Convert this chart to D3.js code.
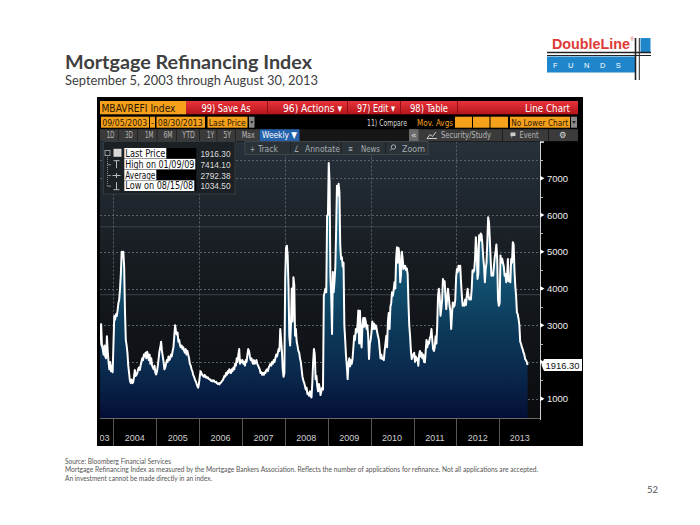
<!DOCTYPE html>
<html><head><meta charset="utf-8">
<script src="https://cdn.jsdelivr.net/npm/d3@7"></script>
<style>html,body{margin:0;padding:0;background:#fff;} svg{display:block;}</style>
</head><body>
<svg id="c" width="700" height="525"></svg>
<script>
// ---------------- DATA ----------------
const title = "Mortgage Refinancing Index";
const subtitle = "September 5, 2003 through August 30, 2013";
const ticker = "MBAVREFI Index";
const startDate = "2003-09-05";
const endDate = "2013-08-30";
// weekly (Friday) values per calendar year
const v2003 = [2440,2900,3030,2450,2350,2200,2450,2150,2100,2700,2300,2000,1800,2000,1750,1900,1720];
const v2004 = [2500,3250,3150,3300,3250, 3400,3600,3700,4000, 4400,5000,4850,5000, 4600,3400,2600,2450,2250, 1900,1700,1500,1430, 1520,1420,1450,1600, 1780,1620,1650,1700,1800, 1850,1780,1900,2000, 2100,2050,2200,2150, 2250,2100,2280,2200,2050, 2200,1950,2100,1900, 1850,1800,1900,1700,1660];
const v2005 = [1750,1900,2100,2300, 2400,2550,2300,2150, 2000,1800,1850,1950, 2050,2000,2150,2050,2100, 2200,2150,2300,2400, 2700,3000,2850,2750, 2800,2550,2600,2450,2400, 2450,2350,2400,2300, 2250,2350,2200,2300,2200, 2100,1950,1900,1800, 1750,1650,1600,1530, 1480,1420,1350,1300,1400];
const v2006 = [1600,1750,1700,1650, 1620,1600,1650,1580, 1600,1560,1580,1540,1520, 1520,1480,1500,1470, 1500,1470,1450,1460, 1420,1400,1420,1390,1430, 1440,1480,1500,1550, 1620,1600,1700,1650, 1750,1700,1800,1750,1700, 1800,1750,1850,1800, 1950,1900,2100,2000, 2200,2350,1950,2050,2000];
const v2007 = [2050,1950,2000,1900, 2050,2000,2200,2350, 2300,2150,2050,2100,2000, 1950,2050,1950,2000, 2050,1950,1900,1850, 1800,1700,1720,1650,1700, 1650,1720,1700,1780, 1800,1750,1850,1900,1950, 1900,2000,1950,2050, 2000,2100,2200,2150, 2250,2350,2300,2900,2600, 2300,1800,1600,1700];
const v2008 = [4300,5100,5166,4900, 4077,2700,2450,3000,4000, 3100,4305,4100,2714, 2900,2550,2440,2300, 2260,2100,2000,1800,1600, 1500,1440,1350,1250, 1300,1130,1150,1080, 1200,1075,1034.5,1440,2000, 2350,2200,1530,1620, 1350,1200,1400,1300,1100, 1200,1300,1250,3800, 3900,4000,3900,5985];
const v2009 = [6000,7414.1,6900,4350,3800, 2760,4450,3900,4200, 4600,5600,6800,6530, 6850,6620,5166,4800, 4850,4600,4700,2986,2600, 2170,1900,1534,1950, 2100,1880,2050,1950,2100, 2400,2714,2600,2900, 2800,3000,3400,2500, 3396,2600,2397,3000,3200, 2960,3200,3100,2900, 3000,2700,2079,2500];
const v2010 = [2600,2800,3100,2900,3050, 2900,3000,2950,2800, 2700,2600,2350,2100, 2200,2080,2100,2050,2300, 2500,2714,2400,3100, 3330,2900,3500,3600, 3896,3800,3950,4170,4000, 4800,5122,4700,5100, 4900,4170,4400,5000, 4800,4530,4600,4620,4500, 4550,4400,3600,2986, 2700,2300,2080,2200,2150];
const v2011 = [2250,2000,2150,2050, 2100,1900,2200,2300, 2150,2250,2100,2200, 2000,1990,2300,2600,2400, 2550,2500,2650,2700, 2900,2600,2350,2300, 2400,2700,2500,3000,3800, 3990,3800,3260,3450, 3700,4260,4100,4200,3800, 3440,3700,3990,3800, 3530,3400,2900,3300, 3620,3500,3530,3700,4300];
const v2012 = [4530,4450,4620,4500, 4620,4170,3800,3530, 3600,3530,3700,3550,3800, 3990,3800,3700,3750, 3700,4000,4500,4450, 4500,4800,5395,5100,4260, 4400,5450,5300,5500, 5450,5200,4850,4600,4170, 4530,4700,5300,5940, 5800,5350,4800,4350, 4400,4350,4600,4850,5000, 5200,4800,3700,3530];
const v2013 = [3600,4900,4700,4810, 4700,4600,4350,4400, 4170,4300,4800,4200,4300, 4170,4800,4700,5260, 5200,4500,4080,3800,3350, 3300,3170,3000,2550, 2500,2400,2350,2260, 2200,2080,2050,2000,1916.3];
const yearValues = {2003:v2003,2004:v2004,2005:v2005,2006:v2006,2007:v2007,2008:v2008,2009:v2009,2010:v2010,2011:v2011,2012:v2012,2013:v2013};
const yearLabels = ["2003","2004","2005","2006","2007","2008","2009","2010","2011","2012","2013"];
const yTickValues = [1000,2000,3000,4000,5000,6000,7000];
const yLabelValues = [1000,3000,4000,5000,6000,7000]; // 2000 is hidden behind the last-price tag
const yMinorValues = [1000,1500,2000,2500,3000,3500,4000,4500,5000,5500,6000,6500,7000,7500];
const yGridDotted = [1000,2000,3000,4000,5000,6000,7000,7500];
const yGridSolid = [3830,5680];
const xGridYears = ["2004","2006","2008","2010","2012"];
const lastPrice = "1916.30";
const lastValue = 1916.3;
const legendRows = [["Last Price","1916.30"],["High on 01/09/09","7414.10"],["Average","2792.38"],["Low on 08/15/08","1034.50"]];
const footer = ["Source: Bloomberg Financial Services",
 "Mortgage Refinancing Index as measured by the  Mortgage Bankers Association. Reflects the number of applications for refinance. Not all applications are accepted.",
 "An investment cannot be made directly in an index."];
const pageNumber = "52";

// ---------------- BUILD SERIES ----------------
const parse = d3.timeParse("%Y-%m-%d");
const d0 = parse(startDate), d1 = parse(endDate);
const series = [];
Object.keys(yearValues).forEach(y => {
  const vals = yearValues[y];
  const a = d3.max([new Date(+y,0,1), d0]);
  const b = d3.min([new Date(+y+1,0,1), d3.timeDay.offset(d1,1)]);
  const fr = d3.timeFriday.range(a, b);
  vals.forEach((v,i) => { if (fr[i]) series.push({date: fr[i], value: v}); });
});

// ---------------- LAYOUT ----------------
const svg = d3.select("#c");
const defs = svg.append("defs");
const BB = "'DejaVu Sans Condensed','Liberation Sans',sans-serif";
const AX = "'Liberation Sans','DejaVu Sans',sans-serif";
const SL = "Lato,'Open Sans',sans-serif";

function T(g, xx, yy, str, len, size, fill, fam){
  const t = g.append("text").attr("x",xx).attr("y",yy).attr("font-family",fam||BB).attr("font-size",size).attr("fill",fill).text(str);
  if (len) t.attr("textLength",len).attr("lengthAdjust","spacingAndGlyphs");
  return t;
}

const plot = {l:100, r:540, t:141.5, b:418};
const x = d3.scaleTime().domain([d0, d1]).range([99.5, 527.6]);
const y = d3.scaleLinear().domain([1000, 7000]).range([398.7, 178.3]);

// Title block
T(svg,65,69,title,247,19.5,"#404040",SL).attr("font-weight","bold");
T(svg,65,85,subtitle,253,13.5,"#404040",SL);

// Logo
const logo = svg.append("g");
T(logo,552,48.5,"DoubleLine",78,14,"#e03a36","'Liberation Sans',Arial,sans-serif").attr("font-weight","bold");
T(logo,630.5,41,"®",null,4.5,"#e03a36",AX);
logo.append("rect").attr("x",547).attr("y",56.5).attr("width",88).attr("height",16).attr("fill","#1f86cc");
logo.append("rect").attr("x",640.5).attr("y",38).attr("width",10).attr("height",14).attr("fill","#1f86cc");
logo.append("line").attr("x1",547).attr("x2",651).attr("y1",52.5).attr("y2",52.5).attr("stroke","#222").attr("stroke-width",1.6);
logo.append("line").attr("x1",547).attr("x2",651).attr("y1",55.5).attr("y2",55.5).attr("stroke","#222").attr("stroke-width",1);
logo.append("line").attr("x1",635.5).attr("x2",635.5).attr("y1",38).attr("y2",80).attr("stroke","#222").attr("stroke-width",1.6);
logo.append("line").attr("x1",639.3).attr("x2",639.3).attr("y1",38).attr("y2",80).attr("stroke","#222").attr("stroke-width",1);
T(logo,553,67.5,"FUNDS",null,7.5,"#fff",AX).attr("letter-spacing",10.5);

// Panel
svg.append("rect").attr("x",97).attr("y",97).attr("width",486).attr("height",349).attr("fill","#000");

// Gradients
const bg = defs.append("linearGradient").attr("id","bgGrad").attr("x1",0).attr("y1",0).attr("x2",0).attr("y2",1);
bg.append("stop").attr("offset","0%").attr("stop-color","#27313a");
bg.append("stop").attr("offset","45%").attr("stop-color","#161b20");
bg.append("stop").attr("offset","100%").attr("stop-color","#0a0c0f");
const ag = defs.append("linearGradient").attr("id","areaGrad").attr("gradientUnits","userSpaceOnUse")
  .attr("x1",0).attr("x2",0).attr("y1",y(7414)).attr("y2",plot.b);
[["0%","#2e8fae"],["34%","#1a5f7e"],["54%","#0f4767"],["65%","#0c3a5a"],["81%","#0a2a4e"],["93%","#071a40"],["100%","#040d35"]]
  .forEach(s => ag.append("stop").attr("offset",s[0]).attr("stop-color",s[1]));
const red = defs.append("linearGradient").attr("id","redGrad").attr("x1",0).attr("y1",0).attr("x2",0).attr("y2",1);
red.append("stop").attr("offset","0%").attr("stop-color","#e8343a");
red.append("stop").attr("offset","100%").attr("stop-color","#b5141c");
defs.append("clipPath").attr("id","plotClip").append("rect").attr("x",plot.l).attr("y",plot.t).attr("width",plot.r-plot.l).attr("height",plot.b-plot.t);
defs.append("clipPath").attr("id","xClip").append("rect").attr("x",plot.l).attr("y",plot.b).attr("width",483).attr("height",28);

// Plot background
svg.append("rect").attr("x",plot.l).attr("y",plot.t).attr("width",plot.r-plot.l).attr("height",plot.b-plot.t).attr("fill","url(#bgGrad)");

// grids
const grid = svg.append("g").attr("clip-path","url(#plotClip)");
grid.selectAll(".gs").data(yGridSolid).join("line").attr("x1",plot.l).attr("x2",plot.r)
  .attr("y1",d=>y(d)).attr("y2",d=>y(d)).attr("stroke","#3b454d").attr("stroke-width",1);
grid.selectAll(".gd").data(yGridDotted).join("line").attr("x1",plot.l).attr("x2",plot.r)
  .attr("y1",d=>Math.round(y(d))+0.5).attr("y2",d=>Math.round(y(d))+0.5).attr("stroke","#5a6268").attr("stroke-width",1).attr("stroke-dasharray","2,2");
grid.selectAll(".gx").data(xGridYears).join("line").attr("y1",plot.t).attr("y2",plot.b)
  .attr("x1",d=>Math.round(x(new Date(+d,0,1)))+0.5).attr("x2",d=>Math.round(x(new Date(+d,0,1)))+0.5)
  .attr("stroke","#5a6268").attr("stroke-width",1).attr("stroke-dasharray","2,2");

// area + line
const gData = svg.append("g").attr("clip-path","url(#plotClip)");
gData.append("path").datum(series).attr("fill","url(#areaGrad)")
  .attr("d", d3.area().x(d=>x(d.date)).y0(plot.b).y1(d=>y(d.value)));
gData.append("path").datum(series).attr("fill","none").attr("stroke","#fff").attr("stroke-width",2).attr("stroke-linejoin","round")
  .attr("d", d3.line().x(d=>x(d.date)).y(d=>y(d.value)));

// bottom line of plot
svg.append("line").attr("x1",plot.l).attr("x2",plot.r).attr("y1",plot.b+0.5).attr("y2",plot.b+0.5).attr("stroke","#6a6a6a");

// Right axis
const ra = svg.append("g");
ra.append("line").attr("x1",plot.r+0.5).attr("x2",plot.r+0.5).attr("y1",plot.t).attr("y2",plot.b+2).attr("stroke","#cfcfcf");
ra.selectAll(".mt").data(yMinorValues).join("line").attr("x1",plot.r).attr("x2",plot.r+3)
  .attr("y1",d=>Math.round(y(d))+0.5).attr("y2",d=>Math.round(y(d))+0.5).attr("stroke","#bbb");
ra.selectAll(".tri").data(yTickValues).join("path")
  .attr("d",d=>{const yy=y(d);return `M${plot.r},${yy-2.5}L${plot.r+4.5},${yy}L${plot.r},${yy+2.5}Z`;}).attr("fill","#fff");
ra.selectAll(".tl").data(yLabelValues).join("text").attr("x",plot.r+7).attr("y",d=>y(d)+3.5)
  .attr("font-family",AX).attr("font-size",9.5).attr("fill","#eee").text(d=>d);
ra.append("line").attr("x1",plot.r).attr("x2",plot.r+4).attr("y1",plot.t+0.5).attr("y2",plot.t+0.5).attr("stroke","#fff").attr("stroke-width",1.5);

// last price tag
const ly = y(lastValue);
ra.append("path").attr("d",`M${plot.r+1.5},${ly}L${plot.r+4},${ly-6}L582,${ly-6}L582,${ly+6}L${plot.r+4},${ly+6}Z`).attr("fill","#fff");
T(ra,545.5,ly+3.5,lastPrice,34,9.5,"#111",AX);

// X axis
const xa = svg.append("g").attr("clip-path","url(#xClip)");
const yearStarts = yearLabels.slice(1).map(s=>new Date(+s,0,1));
xa.selectAll(".sep").data(yearStarts).join("line").attr("x1",d=>Math.round(x(d))+0.5).attr("x2",d=>Math.round(x(d))+0.5)
  .attr("y1",plot.b+1).attr("y2",446).attr("stroke","#555");
function labelX(s){
  const yr=+s;
  if (yr===2003) return x(d0);
  const a = x(new Date(yr,0,1));
  const b = Math.min(x(new Date(yr+1,0,1)), plot.r);
  return (a+b)/2;
}
xa.selectAll(".xl").data(yearLabels).join("text").attr("x",d=>labelX(d)).attr("y",440.5).attr("text-anchor","middle")
  .attr("font-family",AX).attr("font-size",9).attr("fill","#cfcfcf").text(d=>d);

// ---------------- TOOLBARS ----------------
const tb = svg.append("g");
// row 1
tb.append("rect").attr("x",186).attr("y",101).attr("width",392).attr("height",13.3).attr("fill","url(#redGrad)");
[267,347,400,457].forEach(sx=>tb.append("line").attr("x1",sx+0.5).attr("x2",sx+0.5).attr("y1",101).attr("y2",114.3).attr("stroke","#8e1016"));
tb.append("rect").attr("x",100).attr("y",101).attr("width",86).attr("height",13.3).attr("fill","#f6a11c");
T(tb,101.5,111.8,ticker,74,11,"#2a1800");
[["99) Save As",201.5,49],["96) Actions \u25BE",283,59],["97) Edit \u25BE",357,38],["98) Table",410,38],["Line Chart",525,45]].forEach(t=>
  T(tb,t[1],111.8,t[0],t[2],11,"#fff"));
// row 2
[[101,48,"09/05/2003",45],[150,5,"",0],[156.5,48.5,"08/30/2013",45],[207.5,40,"Last Price",37],[455,17,"",0],[473,16.5,"",0],[490.5,17.5,"",0],[510,60,"No Lower Chart",57]].forEach(b=>{
  tb.append("rect").attr("x",b[0]).attr("y",116.7).attr("width",b[1]).attr("height",11).attr("fill","#f6a11c");
  if(b[2]) T(tb,b[0]+1.2,125.6,b[2],b[3],9.5,"#2a1800");
});
T(tb,151,125.6,"-",3,9.5,"#2a1800");
[[249,5.5],[571,6]].forEach(b=>{
  tb.append("rect").attr("x",b[0]).attr("y",116.7).attr("width",b[1]).attr("height",11).attr("fill","#8a8a8a");
  tb.append("path").attr("d",`M${b[0]+1.2},${121}L${b[0]+b[1]-1.2},${121}L${b[0]+b[1]/2},${124}Z`).attr("fill","#222");
});
T(tb,367,125.6,"11) Compare",40,8,"#d8d8d8");
T(tb,417,125.6,"Mov. Avgs",36,8,"#f6a11c");
// row 3
tb.append("rect").attr("x",100).attr("y",129.2).attr("width",159.5).attr("height",12).attr("fill","#3a3a3a");
tb.append("rect").attr("x",299).attr("y",129.2).attr("width",110).attr("height",12).attr("fill","#161616");
tb.append("rect").attr("x",409).attr("y",129.2).attr("width",169).attr("height",12).attr("fill","#3b3b3b");
[["1D",106.5,8],["3D",125,8],["1M",145,8.5],["6M",163.5,9],["YTD",182.3,12.5],["1Y",206.7,7.5],["5Y",223.3,8],["Max",241.7,13]].forEach(t=>
  T(tb,t[1],138.3,t[0],t[2],9,"#b8b8b8"));
[118,137,156.5,176,199,216.5,235].forEach(sx=>tb.append("line").attr("x1",sx+0.5).attr("x2",sx+0.5).attr("y1",129.2).attr("y2",141.2).attr("stroke","#222"));
tb.append("rect").attr("x",259.5).attr("y",129.2).attr("width",40).attr("height",12).attr("fill","#2462ab");
T(tb,262,138.3,"Weekly \u25BC",35,9,"#fff");
tb.append("rect").attr("x",409).attr("y",129.2).attr("width",9.5).attr("height",12).attr("fill","#6a6a6a");
T(tb,410.8,138.3,"\u00AB",6,9,"#ddd");
tb.append("path").attr("d","M427,138.5L430,134.5L432.5,136.5L436,132 M427,138.5L437,138.5").attr("stroke","#ccc").attr("fill","none");
T(tb,441,138.3,"Security/Study",50,9,"#b8b8b8");
tb.append("path").attr("d","M510.5,132.5L515.5,132.5L515.5,136L512.5,136L511.5,138.5L511.5,136L510.5,136Z").attr("fill","#ccc");
T(tb,519.5,138.3,"Event",19,9,"#b8b8b8");
T(tb,559,138.3,"\u2699",null,8.5,"#ddd","'DejaVu Sans',sans-serif");
[502,548].forEach(sx=>tb.append("line").attr("x1",sx+0.5).attr("x2",sx+0.5).attr("y1",129.2).attr("y2",141.2).attr("stroke","#1c1c1c"));

// track/annotate toolbar
tb.append("rect").attr("x",245).attr("y",141.5).attr("width",183).attr("height",13).attr("fill","#2b3237").attr("stroke","#3e464c");
T(tb,250,151.5,"+",5,9,"#a3adb3");
T(tb,258,151.5,"Track",20,9,"#a3adb3");
T(tb,294,151.5,"\u2220",5,9,"#a3adb3");
T(tb,305,151.5,"Annotate",35,9,"#a3adb3");
T(tb,348,151.5,"\u2261",5,9,"#a3adb3");
T(tb,361,151.5,"News",19,9,"#a3adb3");
T(tb,402,151.5,"Zoom",23,9,"#a3adb3");
tb.append("circle").attr("cx",393.5).attr("cy",147).attr("r",2.2).attr("fill","none").attr("stroke","#a3adb3");
tb.append("line").attr("x1",392).attr("y1",148.5).attr("x2",390).attr("y2",150.5).attr("stroke","#a3adb3");
[290,341,385].forEach(sx=>tb.append("line").attr("x1",sx+0.5).attr("x2",sx+0.5).attr("y1",142).attr("y2",154).attr("stroke","#1d2226"));

// legend box
const lg = svg.append("g");
lg.append("rect").attr("x",103.5).attr("y",141.5).attr("width",131.5).attr("height",52.5).attr("fill","#1c2125").attr("stroke","#343b40");
const rowY = [153.3,164.2,175,185.7];
const labLen = [40,69,30,68];
lg.append("line").attr("x1",107.5).attr("x2",107.5).attr("y1",155).attr("y2",186).attr("stroke","#888").attr("stroke-dasharray","1,1");
legendRows.forEach((r,i)=>{
  const yy = rowY[i];
  lg.append("rect").attr("x",124.3).attr("y",yy-5.3).attr("width",72).attr("height",10.6).attr("fill","#000");
  lg.append("rect").attr("x",124.3).attr("y",yy-5.3).attr("width",labLen[i]+2).attr("height",10.6).attr("fill","#fff");
  T(lg,125.3,yy+3.6,r[0],labLen[i],10,"#111");
  T(lg,200.5,yy+3.6,r[1],30,9.5,"#ddd",AX);
  if(i>0) lg.append("line").attr("x1",107.5).attr("x2",111).attr("y1",yy+0.5).attr("y2",yy+0.5).attr("stroke","#888");
});
lg.append("rect").attr("x",105).attr("y",150.5).attr("width",5).attr("height",5).attr("fill","none").attr("stroke","#999");
lg.append("rect").attr("x",113.5).attr("y",148.8).attr("width",8).attr("height",8).attr("fill","#d8d8d8");
lg.append("path").attr("d",`M113.5,${rowY[1]-3.5}L119.5,${rowY[1]-3.5}M116.5,${rowY[1]-3.5}L116.5,${rowY[1]+4}`).attr("stroke","#bbb");
lg.append("path").attr("d",`M112.5,${rowY[2]+0.5}L120.5,${rowY[2]+0.5}M116.5,${rowY[2]-2}L116.5,${rowY[2]+3}`).attr("stroke","#bbb");
lg.append("path").attr("d",`M113.5,${rowY[3]+4}L119.5,${rowY[3]+4}M116.5,${rowY[3]-3.5}L116.5,${rowY[3]+4}`).attr("stroke","#bbb");

// Footer
const fy = [463.5,472,480.5];
const fl = [106,473,147];
footer.forEach((f,i)=> T(svg,65,fy[i],f,fl[i],6.8,"#555",SL));
T(svg,647,492.5,pageNumber,null,9.5,"#555",SL);
</script>
</body></html>
